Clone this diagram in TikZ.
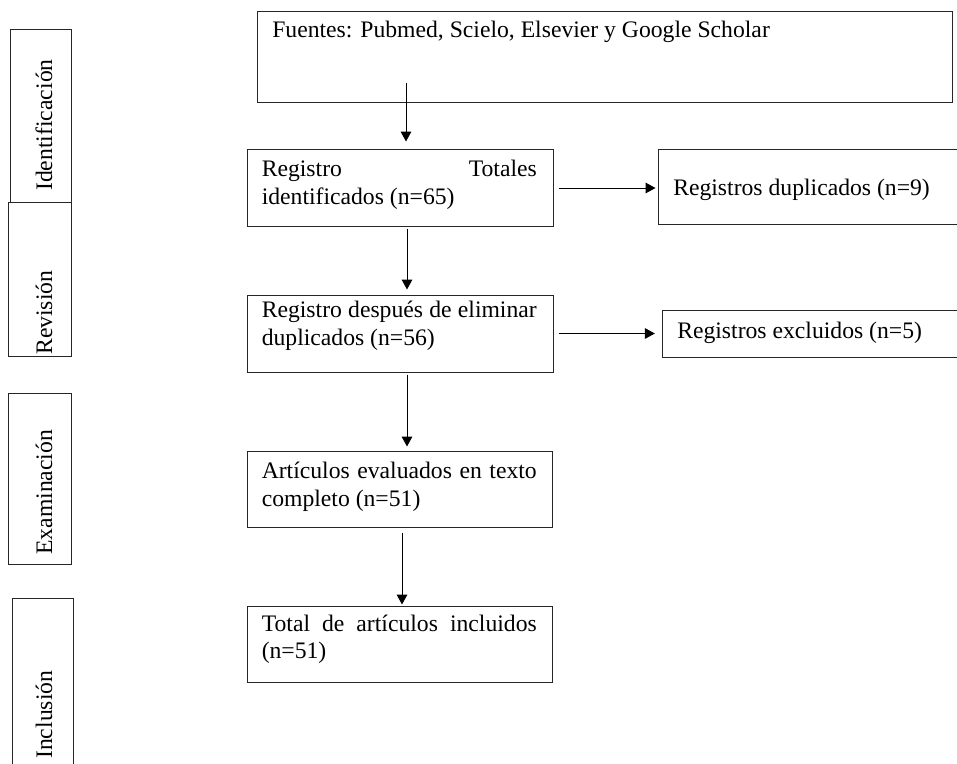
\documentclass[tikz,border=0pt]{standalone}
\usepackage{fontspec}
\setmainfont{Liberation Serif}
\usetikzlibrary{arrows.meta,fit}
\newlength\spw
\setlength\spw{206.25pt}
\newcommand\spreadln[1]{\makebox[\spw][s]{#1}}
\begin{document}
\begin{tikzpicture}[x=0.75pt,y=-0.75pt,
  box/.style={draw=black!85,line width=0.75pt,inner sep=0pt,rectangle},
  txt/.style={anchor=base west,inner sep=0pt,font=\fontsize{17.75pt}{21pt}\selectfont},
  side/.style={txt,rotate=90},
  arr/.style={draw=black,line width=0.75pt,-{Triangle[width=8pt,length=7.5pt]}}]
\useasboundingbox (0,0) rectangle (957,764);
% side boxes
\node[box,fit={(10,29)(71,202)}] (bid) {};
\node[box,fit={(8,202)(71,356)}] (brv) {};
\node[box,fit={(8,393)(71,564)}] (bex) {};
\node[box,fit={(12,598)(73,768)}] (bin) {};
\node[side] (lid) at (52,191) {Identificación};
\node[side] (lrv) at (52,355) {Revisión};
\node[side] (lex) at (52,555) {Examinación};
\node[side] (lin) at (52,759) {Inclusión};
% main boxes
\node[box,fit={(257,11)(952,102)}] (src) {};
\node[box,fit={(247,149)(553,226)}] (reg) {};
\node[box,fit={(658,149)(962,224)}] (dup) {};
\node[box,fit={(247,295)(553,372)}] (rem) {};
\node[box,fit={(662,310)(962,357)}] (exc) {};
\node[box,fit={(247,451)(552,527)}] (art) {};
\node[box,fit={(247,606)(552,682)}] (tot) {};
% texts
\node[txt] (tsrc) at (272,37) {Fuentes: Pubmed, Scielo, Elsevier y Google Scholar};
\node[txt] (treg1) at (261.5,176) {\spreadln{Registro Totales}};
\node[txt] (treg2) at (261.5,204) {identificados (n=65)};
\node[txt] (tdup) at (673,195) {Registros duplicados (n=9)};
\node[txt] (trem1) at (261.5,317) {\spreadln{Registro después de eliminar}};
\node[txt] (trem2) at (261.5,345) {duplicados (n=56)};
\node[txt] (texc) at (677,338.5) {Registros excluidos (n=5)};
\node[txt] (tart1) at (261.5,478) {\spreadln{Artículos evaluados en texto}};
\node[txt] (tart2) at (261.5,506.5) {completo (n=51)};
\node[txt] (ttot1) at (261.5,631) {\spreadln{Total de artículos incluidos}};
\node[txt] (ttot2) at (261.5,658.5) {(n=51)};
% connector guides
\coordinate (ax1) at (406,0);
\coordinate (ax2) at (407,0);
\coordinate (ax4) at (402,0);
\coordinate (ay1) at (0,188);
\coordinate (ay2) at (0,333.5);
% connectors
\draw[arr,shorten <=-15pt,shorten >=5.25pt] (src.south -| ax1) -- (reg.north -| ax1);
\draw[arr,shorten <=1.5pt,shorten >=3.75pt] (reg.south -| ax2) -- (rem.north -| ax2);
\draw[arr,shorten <=1.5pt,shorten >=3pt] (rem.south -| ax2) -- (art.north -| ax2);
\draw[arr,shorten <=3.75pt,shorten >=0.75pt] (art.south -| ax4) -- (tot.north -| ax4);
\draw[arr,shorten <=3.75pt,shorten >=1.5pt] (reg.east |- ay1) -- (dup.west |- ay1);
\draw[arr,shorten <=3.75pt,shorten >=5pt] (rem.east |- ay2) -- (exc.west |- ay2);
\end{tikzpicture}
\end{document}
